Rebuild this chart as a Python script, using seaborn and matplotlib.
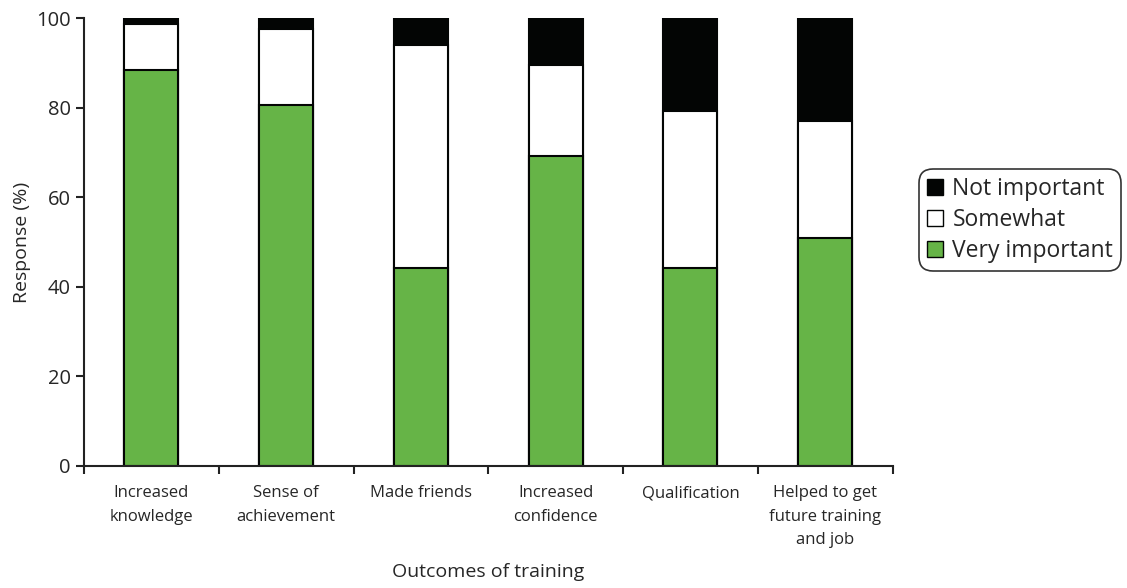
import numpy as np
import pandas as pd
import matplotlib
matplotlib.use("Agg")
import matplotlib.pyplot as plt
import seaborn as sns
from matplotlib.patches import Patch

# Values (percent of responses)
outcomes = ["Increased\nknowledge", "Sense of\nachievement", "Made friends",
            "Increased\nconfidence", "Qualification",
            "Helped to get\nfuture training\nand job"]
very_important = [88.5, 80.6, 44.2, 69.3, 44.3, 51.0]
somewhat = [10.1, 16.9, 49.9, 20.2, 34.9, 26.0]
not_important = [1.4, 2.5, 5.9, 10.5, 20.8, 23.0]

sns.set_style("ticks")
plt.rcParams['font.family'] = ['Open Sans', 'DejaVu Sans']

df = pd.DataFrame({"Outcome": outcomes,
                   "very": very_important,
                   "somewhat": somewhat,
                   "not": not_important})
df["top"] = df["very"] + df["somewhat"] + df["not"]
df["mid"] = df["very"] + df["somewhat"]

green = "#66b447"
black = "#030504"

fig, ax = plt.subplots(figsize=(11.27, 5.88), dpi=100)
fig.subplots_adjust(left=0.0745, right=0.792, top=0.969, bottom=0.2075)

# stacked bars drawn as overlapping cumulative totals
for col, c in [("top", black), ("mid", "white"), ("very", green)]:
    sns.barplot(data=df, x="Outcome", y=col, color=c, width=0.4, saturation=1,
                edgecolor=black, linewidth=1.5, ax=ax)

ax.set_ylim(0, 100)
ax.set_xlim(-0.5, len(outcomes) - 0.5)
ax.set_yticks([0, 20, 40, 60, 80, 100])
ax.tick_params(axis="y", labelsize=14.5, width=1.5, length=6, color="#222222")
ax.set_xticks(np.arange(-0.5, len(outcomes)), minor=True)
ax.tick_params(axis="x", which="minor", length=6, width=1.5, color="#222222")
ax.tick_params(axis="x", which="major", length=0, labelsize=12, pad=14)
ax.set_xticks(range(len(outcomes)))
ax.set_xticklabels(outcomes, linespacing=1.6)
ax.set_ylabel("Response (%)", fontsize=14)
ax.set_xlabel("Outcomes of training", fontsize=14, labelpad=11)

for s in ["left", "bottom"]:
    ax.spines[s].set_linewidth(1.5)
    ax.spines[s].set_color("#222222")
sns.despine(ax=ax)

handles = [Patch(facecolor=black, edgecolor=black, label="Not important"),
           Patch(facecolor="white", edgecolor=black, label="Somewhat"),
           Patch(facecolor=green, edgecolor=black, label="Very important")]
leg = ax.legend(handles=handles, loc="center left", bbox_to_anchor=(1.033, 0.549),
                fontsize=16.5, frameon=True, fancybox=True, handlelength=0.7,
                handleheight=0.7, handletextpad=0.4, labelspacing=0.3,
                borderpad=0.35, borderaxespad=0)
leg.get_frame().set_edgecolor("black")
leg.get_frame().set_linewidth(1.2)
leg.get_frame().set_boxstyle("round", pad=0, rounding_size=0.6)

plt.savefig("out.png", dpi=100)
